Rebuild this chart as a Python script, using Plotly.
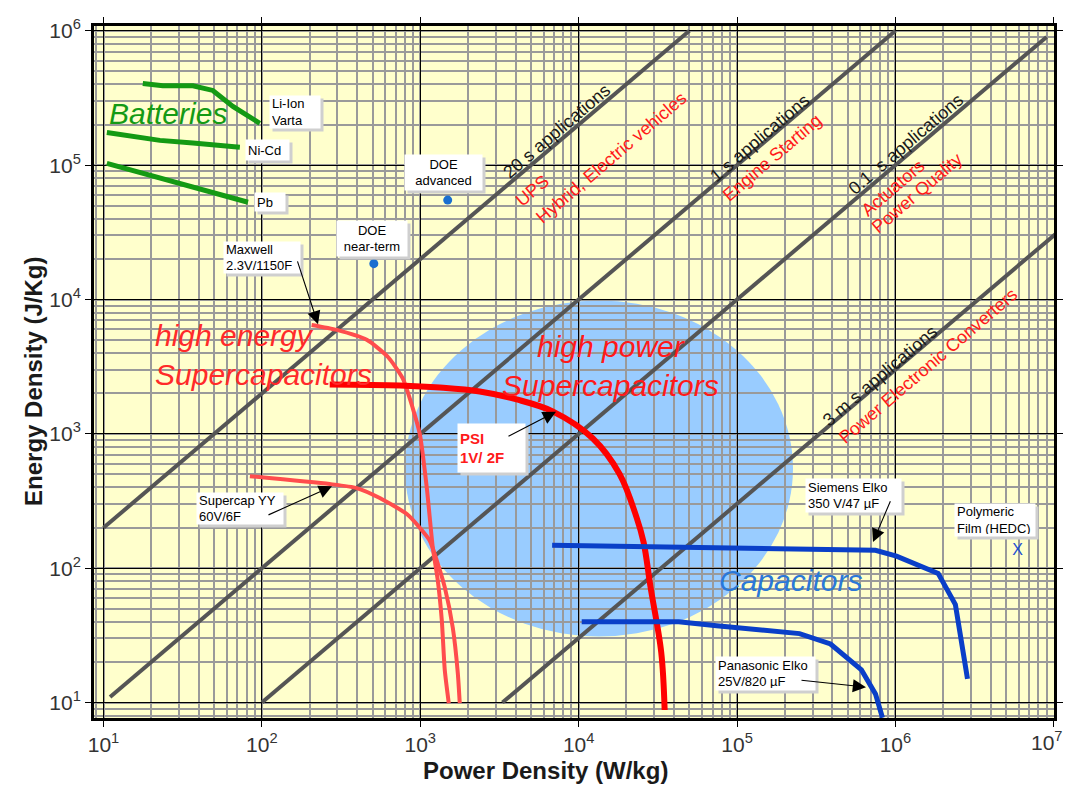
import plotly.graph_objects as go

# ---------------- data ----------------
# constant-discharge-time lines (E = t * P)
diag_labels = ["20 s", "1 s", "0.1 s", "3 ms"]
diag_p = [[10, 5.0e4], [11, 1.0e6], [100, 9.0e6], [3300, 1.2e7]]
diag_e = [[200, 1.0e6], [11, 1.0e6], [10, 9.0e5], [10, 3.6e4]]

liion_p = [17.7, 23.7, 36.7, 49, 65.6, 97]
liion_e = [4.05e5, 3.9e5, 3.9e5, 3.6e5, 2.74e5, 2.05e5]
nicd_p = [10.5, 22.7, 36.7, 72.6]
nicd_e = [1.75e5, 1.53e5, 1.46e5, 1.36e5]
pb_p = [10.5, 30.4, 81.7]
pb_e = [1.03e5, 7.35e4, 5.3e4]

maxwell_p = [206, 297, 459, 623, 776, 897, 994, 1100, 1200, 1290, 1367, 1428, 1513]
maxwell_e = [6470, 5940, 5010, 3750, 2580, 1550, 991, 394, 142, 81, 41, 17.4, 9.9]

yy_p = [84, 268, 397, 555, 822, 993, 1148, 1271, 1428, 1604, 1725, 1775]
yy_e = [484, 423, 395, 333, 253, 200, 160, 114, 72, 36, 16.6, 9.9]

psi_p = [268, 743, 1327, 2372, 4060, 6850, 12250, 18150, 23250, 25700, 28450, 33200, 34900]
psi_e = [2330, 2290, 2210, 2065, 1803, 1470, 927, 501, 237, 156, 72, 23.7, 8.8]

siemens_p = [6800, 74300, 150000, 748000, 1.015e6, 1.86e6, 2.39e6, 2.65e6, 2.85e6]
siemens_e = [148.5, 142.6, 138, 136, 123, 91.5, 53.7, 26.7, 15]

panasonic_p = [10450, 42800, 74300, 248000, 389000, 610000, 748000, 828000]
panasonic_e = [40, 40, 37.3, 32.6, 27.3, 17.5, 11.6, 7.7]

doe_p = [509, 1490]
doe_e = [1.85e4, 5.5e4]

film_p = [5.9e6]
film_e = [135]

x_ticks = [1e1, 1e2, 1e3, 1e4, 1e5, 1e6, 1e7]
x_ticktext = ["10<sup>1</sup>", "10<sup>2</sup>", "10<sup>3</sup>", "10<sup>4</sup>",
              "10<sup>5</sup>", "10<sup>6</sup>", ""]
x_last_label = "10<sup>7</sup>"
y_ticks = [1e1, 1e2, 1e3, 1e4, 1e5, 1e6]
y_ticktext = ["10<sup>1</sup>", "10<sup>2</sup>", "10<sup>3</sup>", "10<sup>4</sup>",
              "10<sup>5</sup>", "10<sup>6</sup>"]

# ---------------- layout geometry ----------------
# the page body has an 8px margin, so the figure is drawn at (8, 8)
OFF = 8
W, H = 1073, 789
PX0, PX1 = 94, 1054      # wanted plot area in window pixels
PY0, PY1 = 17, 718
L, T = PX0 - OFF, PY0 - OFF
R, B = (W + OFF) - PX1, (H + OFF) - PY1
FONT = "Arial, Liberation Sans, sans-serif"


def pp(px, py):
    """window pixel position -> paper coordinates"""
    return (px - PX0) / (PX1 - PX0), (PY1 - py) / (PY1 - PY0)


def ry(py):
    """reference pixel y (plot box 22..718) -> wanted window y"""
    return PY1 - (718 - py) * (PY1 - PY0) / 696


fig = go.Figure()

GRAY = "#555555"
for p, e in zip(diag_p, diag_e):
    fig.add_trace(go.Scatter(x=p, y=e, mode="lines",
                             line=dict(color=GRAY, width=4), hoverinfo="skip"))

GREEN = "#149a14"
for p, e in [(liion_p, liion_e), (nicd_p, nicd_e), (pb_p, pb_e)]:
    fig.add_trace(go.Scatter(x=p, y=e, mode="lines",
                             line=dict(color=GREEN, width=5), hoverinfo="skip"))

SALMON = "#ff4d4d"
fig.add_trace(go.Scatter(x=maxwell_p, y=maxwell_e, mode="lines",
                         line=dict(color=SALMON, width=4, shape="spline", smoothing=0.6)))
fig.add_trace(go.Scatter(x=yy_p, y=yy_e, mode="lines",
                         line=dict(color=SALMON, width=4, shape="spline", smoothing=0.6)))
fig.add_trace(go.Scatter(x=psi_p, y=psi_e, mode="lines",
                         line=dict(color="#ff0000", width=6, shape="spline", smoothing=1.0)))

BLUE = "#0a3fc8"
fig.add_trace(go.Scatter(x=siemens_p, y=siemens_e, mode="lines",
                         line=dict(color=BLUE, width=5)))
fig.add_trace(go.Scatter(x=panasonic_p, y=panasonic_e, mode="lines",
                         line=dict(color=BLUE, width=5)))

fig.add_trace(go.Scatter(x=doe_p, y=doe_e, mode="markers",
                         marker=dict(color="#1a6fd0", size=9)))
fig.add_trace(go.Scatter(x=film_p, y=film_e, mode="text", text=["X"],
                         textfont=dict(family=FONT, size=16, color="#1f4fd0")))

# blue high-power ellipse
x0, y0 = pp(405, ry(636))
x1, y1 = pp(793, ry(298))
fig.add_shape(type="circle", xref="paper", yref="paper", x0=x0, y0=y0, x1=x1, y1=y1,
              fillcolor="#99ccff", line=dict(width=0), layer="below")

ann = []


def text(t, px, py, size, color="black", angle=0, italic=False, bold=False,
         xanchor="center", align="center", adjust=True):
    x, y = pp(px, ry(py) if adjust else py)
    if bold:
        t = "<b>" + t + "</b>"
    if italic:
        t = "<i>" + t + "</i>"
    ann.append(dict(x=x, y=y, xref="paper", yref="paper", text=t, showarrow=False,
                    textangle=angle, xanchor=xanchor, yanchor="middle", align=align,
                    font=dict(family=FONT, size=size, color=color)))


def box(t, cx, cy, w, h, color="black", bold=False, align="left", size=13):
    x, y = pp(cx, ry(cy))
    if bold:
        t = "<b>" + t + "</b>"
    common = dict(x=x, y=y, xref="paper", yref="paper", showarrow=False,
                  width=w - 4, height=h - 4, borderpad=2, align=align, valign="middle",
                  xanchor="center", yanchor="middle")
    ann.append(dict(text=t, bgcolor="#cfcfcf", xshift=3, yshift=-3,
                    font=dict(family=FONT, size=size, color="rgba(0,0,0,0)"), **common))
    ann.append(dict(text=t, bgcolor="white",
                    font=dict(family=FONT, size=size, color=color), **common))


def arrow(tail, tip):
    tail = (tail[0], ry(tail[1]))
    tip = (tip[0], ry(tip[1]))
    x, y = pp(*tip)
    ann.append(dict(x=x, y=y, xref="paper", yref="paper", text="", showarrow=True,
                    ax=tail[0] - tip[0], ay=tail[1] - tip[1],
                    arrowhead=2, arrowsize=2.4, arrowwidth=1.1, arrowcolor="black",
                    standoff=0, startstandoff=0))


ANG = -40.5
RED = "#ff1a1a"
DARK = "#1a1a1a"
text("20 s applications", 557, 128, 18, DARK, ANG)
text("UPS", 532, 188, 18, RED, ANG)
text("Hybrid, Electric vehicles", 611, 155, 18, RED, ANG)
text("1 s applications", 760, 135, 18, DARK, ANG)
text("Engine Starting", 772, 155, 18, RED, ANG)
text("0.1  s applications", 906, 141, 18, DARK, ANG)
text("Actuators", 893, 185, 18, RED, ANG)
text("Power Quality", 917, 190, 18, RED, ANG)
text("3 m s applications", 880, 374, 18, DARK, ANG)
text("Power Electronic Converters", 928, 364, 18, RED, ANG)

text("Batteries", 168, 110, 30, GREEN, italic=True)
text("high energy<br>Supercapacitors", 153, 353, 30, "#ff2a2a", italic=True,
     xanchor="left", align="left")
text("high power<br>Supercapacitors", 610, 364, 30, RED, italic=True)
text("Capacitors", 790, 580, 30, "#2a78d8", italic=True)

box("Li-Ion<br>Varta", 295, 108, 50, 32)
box("Ni-Cd", 267, 147, 43, 20)
box("Pb", 270, 199, 30, 18)
box("DOE<br>advanced", 443, 169, 77, 35, align="center")
box("DOE<br>near-term", 372, 236, 70, 35, align="center")
box("Maxwell<br>2.3V/1150F", 262, 255, 76, 31)
box("Supercap YY<br>60V/6F", 240, 507, 86, 31)
box("PSI<br>1V/ 2F", 491, 446, 67, 48, color="#ff1a1a", bold=True, size=15)
box("Siemens Elko<br>350 V/47 µF", 853, 494, 95, 33)
box("Polymeric<br>Film (HEDC)", 995, 519, 80, 32)
box("Panasonic Elko<br>25V/820 µF", 765, 673, 99, 33)

arrow((297, 258), (318, 322))
arrow((267, 514), (332, 485))
arrow((507, 435), (556, 410))
arrow((891, 499), (873, 541))
arrow((800, 680), (866, 687))

# last x tick label, kept inside the window
text(x_last_label, 1047, 741, 21, "#333333", adjust=False)

# axis titles
text("Power Density (W/kg)", 545, 771, 24, DARK, bold=True, adjust=False)
text("Energy Density (J/Kg)", 34, 380, 24, DARK, angle=-90, bold=True)

axis_common = dict(
    type="log",
    showgrid=True, gridcolor="black", gridwidth=1.3,
    minor=dict(dtick="D1", showgrid=True, gridcolor="#9a9a9a", gridwidth=1.5, ticks=""),
    showline=True, linecolor="black", linewidth=3, mirror="ticks",
    ticks="outside", ticklen=6, tickcolor="black", tickwidth=1.3,
    tickfont=dict(family=FONT, size=21, color="#333333"),
    zeroline=False,
)

fig.update_layout(
    width=W, height=H,
    margin=dict(l=L, r=R, t=T, b=B),
    paper_bgcolor="white", plot_bgcolor="#ffffcc",
    showlegend=False,
    xaxis=dict(range=[0.94, 7.001], tickmode="array", tickvals=x_ticks,
               ticktext=x_ticktext, **axis_common),
    yaxis=dict(range=[0.885, 6.036], tickmode="array", tickvals=y_ticks,
               ticktext=y_ticktext, **axis_common),
    annotations=ann,
)

fig.write_html("out.html")
